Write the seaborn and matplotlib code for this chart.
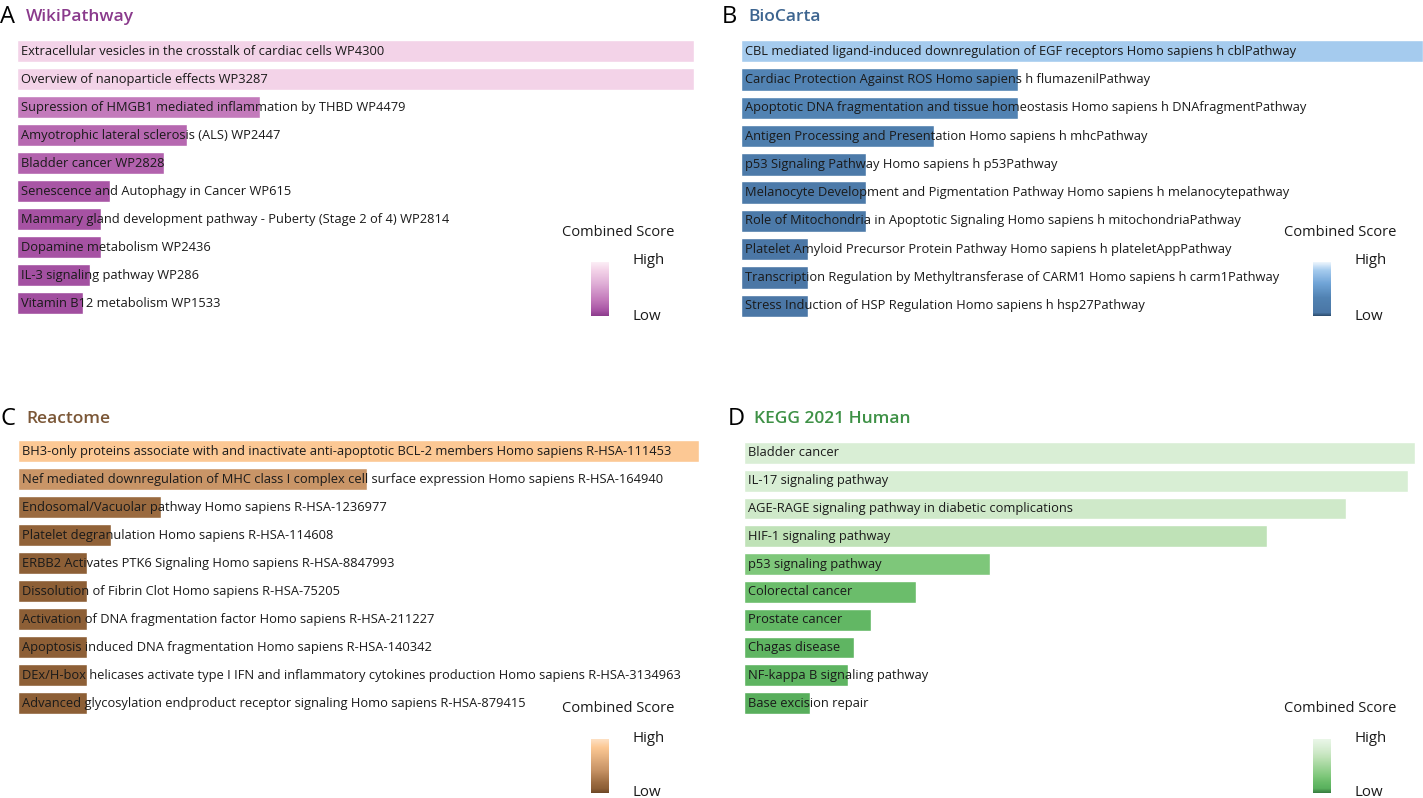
import numpy as np
import pandas as pd
import matplotlib
matplotlib.use("Agg")
import matplotlib.pyplot as plt
import seaborn as sns
from matplotlib.colors import LinearSegmentedColormap, Normalize
from matplotlib.cm import ScalarMappable

sns.set_theme(style="white")
plt.rcParams['font.family'] = ['Open Sans', 'DejaVu Sans']

# ---- data (combined scores) ----
wiki_terms = [
    "Extracellular vesicles in the crosstalk of cardiac cells WP4300",
    "Overview of nanoparticle effects WP3287",
    "Supression of HMGB1 mediated inflammation by THBD WP4479",
    "Amyotrophic lateral sclerosis (ALS) WP2447",
    "Bladder cancer WP2828",
    "Senescence and Autophagy in Cancer WP615",
    "Mammary gland development pathway - Puberty (Stage 2 of 4) WP2814",
    "Dopamine metabolism WP2436",
    "IL-3 signaling pathway WP286",
    "Vitamin B12 metabolism WP1533",
]
wiki_scores = [677, 677, 243, 170, 147, 93, 84, 84, 73, 66]

biocarta_terms = [
    "CBL mediated ligand-induced downregulation of EGF receptors Homo sapiens h cblPathway",
    "Cardiac Protection Against ROS Homo sapiens h flumazenilPathway",
    "Apoptotic DNA fragmentation and tissue homeostasis Homo sapiens h DNAfragmentPathway",
    "Antigen Processing and Presentation Homo sapiens h mhcPathway",
    "p53 Signaling Pathway Homo sapiens h p53Pathway",
    "Melanocyte Development and Pigmentation Pathway Homo sapiens h melanocytepathway",
    "Role of Mitochondria in Apoptotic Signaling Homo sapiens h mitochondriaPathway",
    "Platelet Amyloid Precursor Protein Pathway Homo sapiens h plateletAppPathway",
    "Transcription Regulation by Methyltransferase of CARM1 Homo sapiens h carm1Pathway",
    "Stress Induction of HSP Regulation Homo sapiens h hsp27Pathway",
]
biocarta_scores = [682, 277, 277, 193, 125, 125, 125, 67, 67, 67]

reactome_terms = [
    "BH3-only proteins associate with and inactivate anti-apoptotic BCL-2 members Homo sapiens R-HSA-111453",
    "Nef mediated downregulation of MHC class I complex cell surface expression Homo sapiens R-HSA-164940",
    "Endosomal/Vacuolar pathway Homo sapiens R-HSA-1236977",
    "Platelet degranulation Homo sapiens R-HSA-114608",
    "ERBB2 Activates PTK6 Signaling Homo sapiens R-HSA-8847993",
    "Dissolution of Fibrin Clot Homo sapiens R-HSA-75205",
    "Activation of DNA fragmentation factor Homo sapiens R-HSA-211227",
    "Apoptosis induced DNA fragmentation Homo sapiens R-HSA-140342",
    "DEx/H-box helicases activate type I IFN and inflammatory cytokines production Homo sapiens R-HSA-3134963",
    "Advanced glycosylation endproduct receptor signaling Homo sapiens R-HSA-879415",
]
reactome_scores = [681, 349, 143, 93, 69, 69, 69, 69, 69, 69]

kegg_terms = [
    "Bladder cancer",
    "IL-17 signaling pathway",
    "AGE-RAGE signaling pathway in diabetic complications",
    "HIF-1 signaling pathway",
    "p53 signaling pathway",
    "Colorectal cancer",
    "Prostate cancer",
    "Chagas disease",
    "NF-kappa B signaling pathway",
    "Base excision repair",
]
kegg_scores = [671, 664, 602, 523, 246, 172, 127, 110, 104, 66]

# colour ramps, low -> high
wiki_cmap = LinearSegmentedColormap.from_list("wiki", [
    (0.0, "#8b3b8b"), (0.1, "#a652a3"), (0.3, "#c279ba"),
    (0.6, "#dfaed6"), (0.85, "#f3d3e8"), (1.0, "#fbeef6")])
biocarta_cmap = LinearSegmentedColormap.from_list("bio", [
    (0.0, "#2b4a6a"), (0.06, "#4a76a5"), (0.34, "#5182b2"),
    (0.6, "#6fa3d6"), (0.85, "#a5cbee"), (1.0, "#eef6fd")])
reactome_cmap = LinearSegmentedColormap.from_list("rea", [
    (0.0, "#6a4626"), (0.08, "#8c5e35"), (0.18, "#9a6a3f"),
    (0.43, "#c89466"), (0.85, "#fcc894"), (1.0, "#fde0c4")])
kegg_cmap = LinearSegmentedColormap.from_list("kegg", [
    (0.0, "#357a3e"), (0.085, "#59b05d"), (0.14, "#5fb562"),
    (0.22, "#6cbd6b"), (0.31, "#7ec77a"), (0.66, "#bfe2b7"),
    (0.765, "#cfe9c9"), (0.85, "#d9eed5"), (1.0, "#eaf6e8")])

W, H = 1423, 798
fig = plt.figure(figsize=(W / 100, H / 100), dpi=100)


def px_axes(left, top, right, bottom):
    return fig.add_axes([left / W, 1 - bottom / H, (right - left) / W, (bottom - top) / H])


def panel(terms, scores, cmap, box, letter, title, title_color, title_xy, cbar_xy):
    df = pd.DataFrame({"term": terms, "score": scores})
    norm = Normalize(vmin=0, vmax=max(scores) / 0.85)
    pal = {t: cmap(norm(s)) for t, s in zip(terms, scores)}
    ax = px_axes(*box)
    sns.barplot(data=df, x="score", y="term", hue="term", palette=pal,
                dodge=False, legend=False, width=0.79, saturation=1, ax=ax)
    ax.set_xlim(0, max(scores))
    ax.set_ylim(len(terms) - 0.5, -0.5)
    ax.axis("off")
    for i, t in enumerate(terms):
        ax.annotate(t, (0, i), xytext=(3, 0), textcoords="offset points",
                    va="center", ha="left", fontsize=9.3, color="#1a1a1a")

    # panel letter + title
    tx, ty = title_xy
    fig.text(tx / W, 1 - ty / H, letter, fontsize=17, color="black",
             va="center", ha="left")
    fig.text((tx + 26) / W, 1 - ty / H, title, fontsize=12.5, fontweight="semibold",
             color=title_color, va="center", ha="left")

    # colour key
    cx, cy = cbar_xy
    cax = px_axes(cx, cy, cx + 18, cy + 54)
    cb = fig.colorbar(ScalarMappable(norm=norm, cmap=cmap), cax=cax)
    cb.outline.set_visible(False)
    cb.set_ticks([])
    fig.text((cx + 27) / W, 1 - (cy - 30) / H, "Combined Score", fontsize=10.5,
             ha="center", va="center", color="#1a1a1a")
    fig.text((cx + 41) / W, 1 - (cy - 1) / H, "High", fontsize=10.8,
             ha="left", va="center", color="#1a1a1a")
    fig.text((cx + 41) / W, 1 - (cy + 54) / H, "Low", fontsize=10.8,
             ha="left", va="center", color="#1a1a1a")


panel(wiki_terms, wiki_scores, wiki_cmap, (17, 37, 694, 317),
      "A", "WikiPathway", "#8a3a8c", (0, 17), (591, 262))
panel(biocarta_terms, biocarta_scores, biocarta_cmap, (741, 37, 1423, 320),
      "B", "BioCarta", "#3d6590", (722, 17), (1313, 262))
panel(reactome_terms, reactome_scores, reactome_cmap, (18, 437, 699, 717),
      "C", "Reactome", "#7b5737", (0, 419), (591, 739))
panel(kegg_terms, kegg_scores, kegg_cmap, (744, 439, 1415, 717),
      "D", "KEGG 2021 Human", "#3e9146", (728, 419), (1313, 739))

fig.savefig("out.png", dpi=100)
